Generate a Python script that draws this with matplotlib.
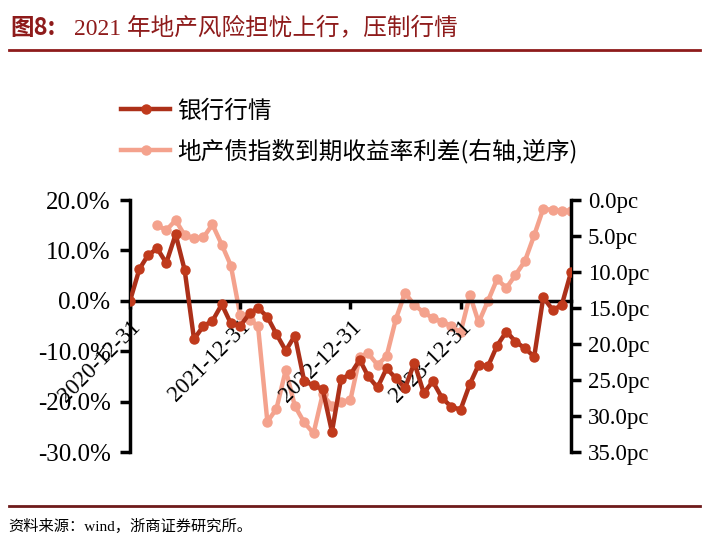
import numpy as np
import pandas as pd
import matplotlib
matplotlib.use("Agg")
import matplotlib.pyplot as plt
import matplotlib.dates as mdates

# === data (monthly, month-end) ===
dates = pd.date_range("2020-12-31", periods=49, freq="ME")

bank = [0.0, 6.3, 9.0, 10.4, 7.5, 13.2, 6.1, -7.6, -5.0, -4.0,
        -0.7, -4.5, -5.0, -2.5, -1.4, -3.2, -6.6, -9.9, -6.9, -15.9,
        -16.8, -17.5, -26.0, -15.5, -14.6, -11.7, -15.0, -17.2, -13.4, -15.4,
        -17.3, -12.3, -18.3, -16.0, -19.3, -21.0, -21.6, -16.5, -12.7, -13.0,
        -8.9, -6.1, -8.1, -9.4, -11.1, 0.7, -1.8, -0.9, 5.7]

spread = [np.nan, np.nan, np.nan, 3.5, 4.2, 2.8, 4.9, 5.3, 5.2, 3.4,
          6.2, 9.1, 16.0, 16.6, 17.5, 30.8, 29.0, 23.6, 28.6, 30.9,
          32.4, 27.0, 28.6, 28.0, 27.8, 21.8, 21.3, 22.9, 21.7, 16.5,
          12.9, 14.6, 15.6, 16.4, 16.9, 17.5, 18.4, 13.2, 17.0, 14.0,
          11.0, 12.2, 10.4, 8.5, 4.9, 1.2, 1.4, 1.5, 1.5]

left_ticks = [-30, -20, -10, 0, 10, 20]
right_ticks = [0, 5, 10, 15, 20, 25, 30, 35]
year_ticks = pd.to_datetime(["2020-12-31", "2021-12-31", "2022-12-31", "2023-12-31"])

label_bank = "银行行情"
label_spread = "地产债指数到期收益率利差(右轴,逆序)"

# === styles ===
DARK = "#AC3019"
DARK_MK = "#C03A1C"
LIGHT = "#F4A28D"
TITLE_RED = "#8E1B1B"
SERIF = ["Liberation Serif", "Noto Sans CJK SC"]
CJK = ["Noto Sans CJK SC", "DejaVu Sans"]
TICK_FS = 16.5

fig = plt.figure(figsize=(7.09, 5.57), dpi=100)

# title + rules
fig.text(0.015, 0.950, "图8:", fontsize=17, fontweight="bold", color=TITLE_RED,
         family=CJK, va="center")
fig.text(0.105, 0.950, "2021 年地产风险担忧上行，压制行情", fontsize=17,
         color=TITLE_RED, family=SERIF, va="center")
fig.add_artist(plt.Line2D([0.012, 0.988], [0.910, 0.910], color=TITLE_RED, lw=2))
fig.add_artist(plt.Line2D([0.012, 0.988], [0.091, 0.091], color="#6E1A1A", lw=2))
fig.text(0.011, 0.055, "资料来源：wind，浙商证券研究所。", fontsize=11,
         color="black", family=SERIF, va="center")

ax = fig.add_axes([0.1834, 0.1885, 0.6220, 0.4524])
ax2 = ax.twinx()

l2, = ax2.plot(dates, spread, color=LIGHT, lw=3.2, marker="o", ms=6.5,
               mfc=LIGHT, mec=LIGHT, label=label_spread, zorder=2)
l1, = ax.plot(dates, bank, color=DARK, lw=3.2, marker="o", ms=6.5,
              mfc=DARK_MK, mec=DARK_MK, label=label_bank, zorder=3)
ax.set_zorder(ax2.get_zorder() + 1)
ax.patch.set_visible(False)

ax.set_ylim(-30, 20)
ax.set_yticks(left_ticks)
ax.set_yticklabels([f"{v:.1f}%" for v in left_ticks])
ax2.set_ylim(35, 0)
ax2.set_yticks(right_ticks)
ax2.set_yticklabels([f"{v:.1f}pc" for v in right_ticks])

ax.set_xlim(pd.Timestamp("2020-12-31"), pd.Timestamp("2024-12-31"))
ax.set_xticks(year_ticks)
ax.xaxis.set_major_formatter(mdates.DateFormatter("%Y-%m-%d"))

for a in (ax, ax2):
    a.spines["top"].set_visible(False)
    for s in ("left", "right", "bottom"):
        a.spines[s].set_linewidth(2.5)
ax.spines["right"].set_visible(False)
ax2.spines["left"].set_visible(False)
ax2.spines["bottom"].set_visible(False)
ax.spines["bottom"].set_position(("data", 0))

ax.tick_params(axis="y", direction="out", length=7, width=2.5, labelsize=18, pad=7)
ax2.tick_params(axis="y", direction="out", length=7, width=2.5, labelsize=TICK_FS, pad=5)
ax.tick_params(axis="x", direction="out", length=6, width=2.5, labelsize=TICK_FS, pad=5)
for t in ax.get_yticklabels() + ax2.get_yticklabels():
    t.set_family(SERIF)
for t in ax.get_xticklabels():
    t.set_family(SERIF)
    t.set_rotation(45)
    t.set_ha("right")
    t.set_va("top")
    t.set_rotation_mode("anchor")

fig.legend([l1, l2], [label_bank, label_spread], loc="upper left",
           bbox_to_anchor=(0.157, 0.838), frameon=False, handlelength=2.1,
           labelspacing=0.68, handletextpad=0.3, borderaxespad=0,
           prop={"family": CJK, "size": 17})

fig.savefig("out.png", dpi=100)
